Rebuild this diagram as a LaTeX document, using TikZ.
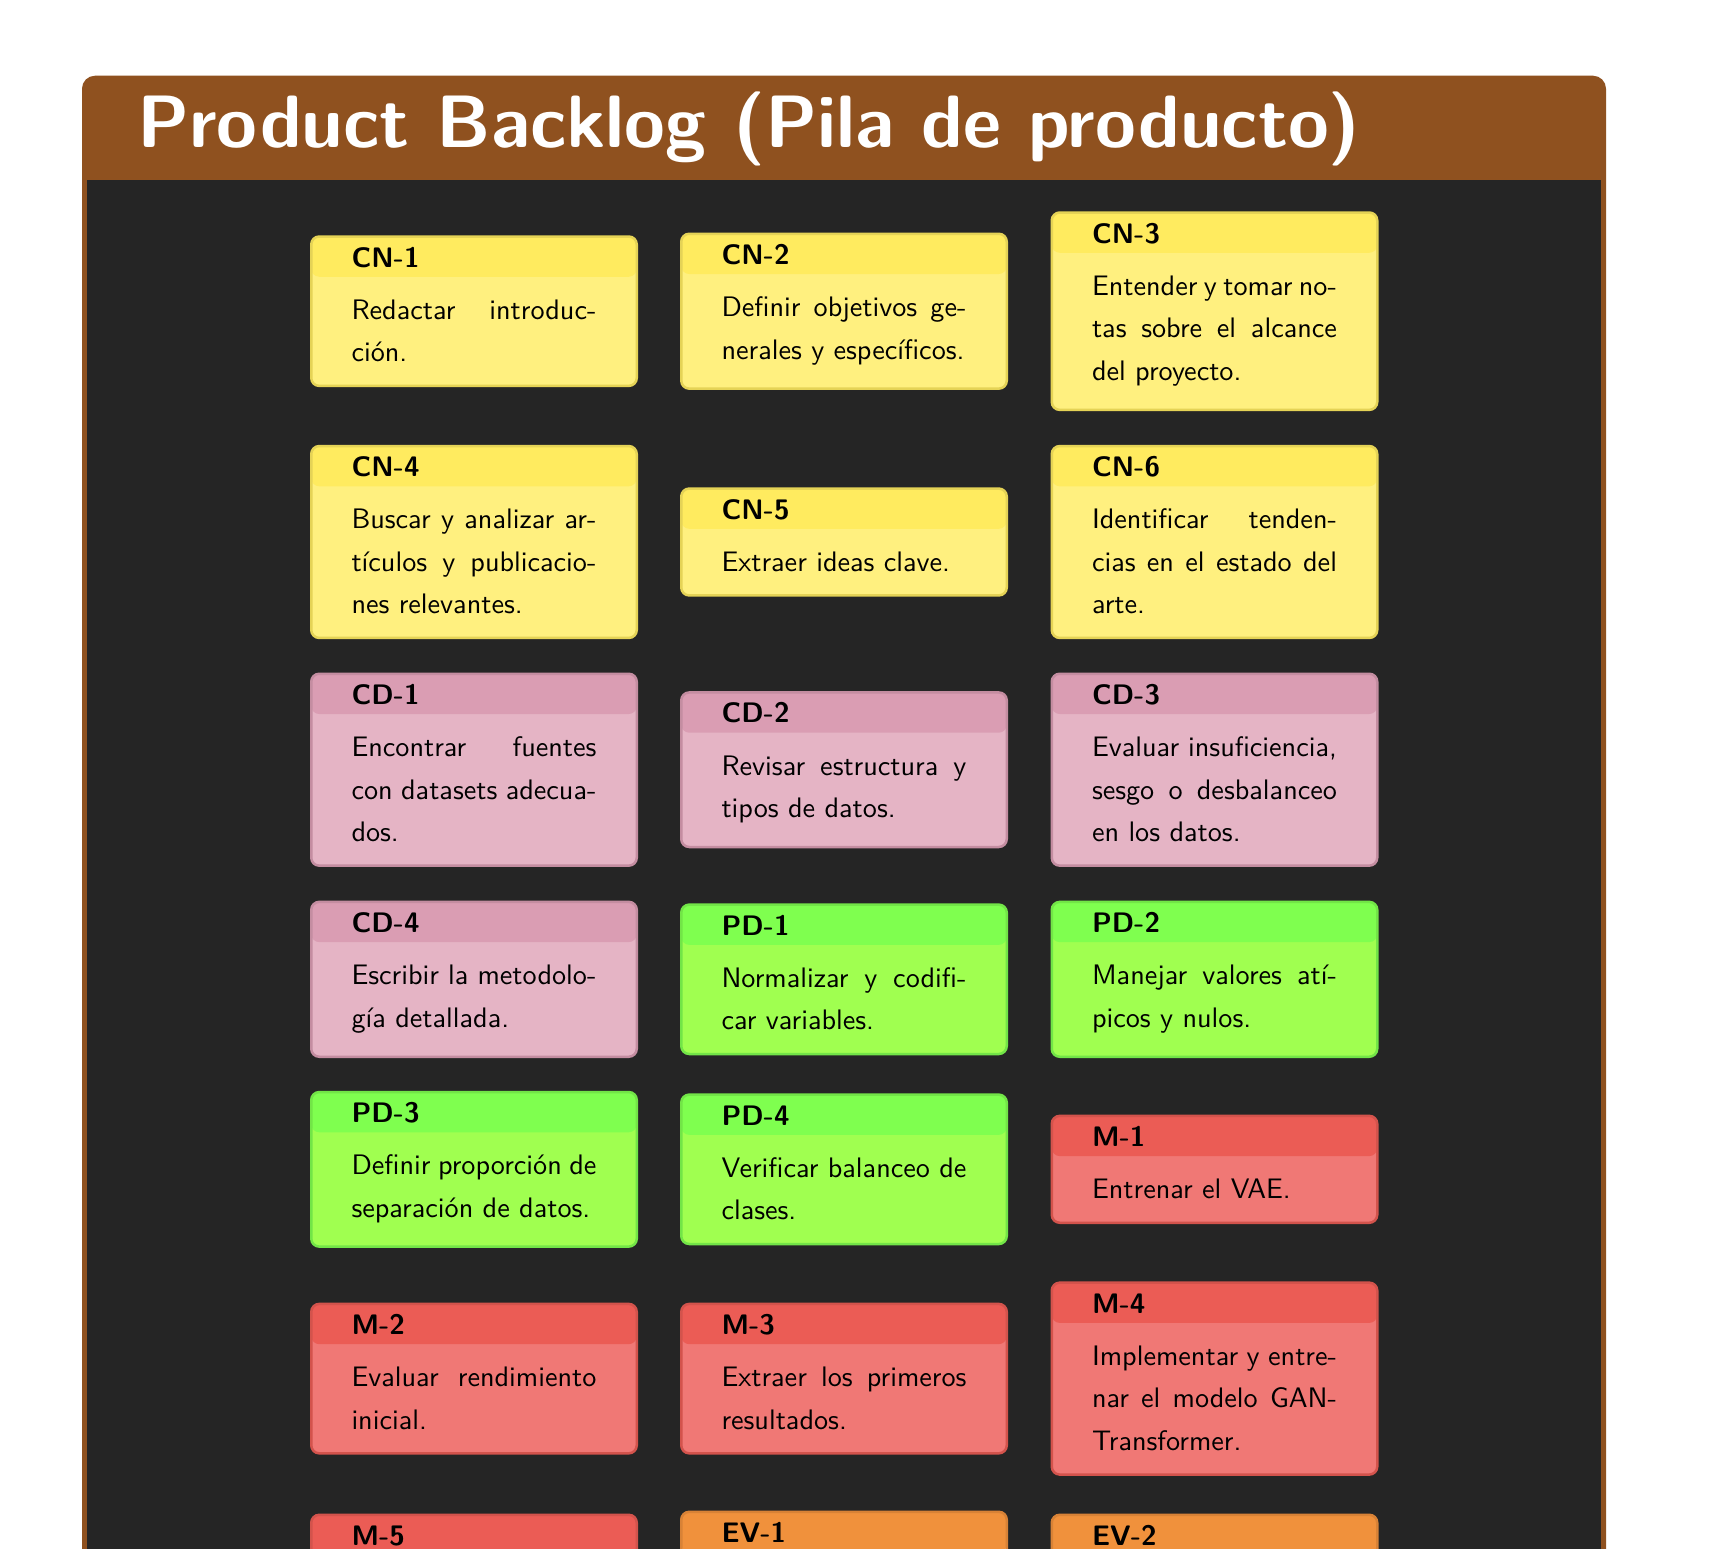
\documentclass[tikz,border=0pt]{standalone}
\usepackage{fontspec}
\setsansfont{lmsans10-regular.otf}[BoldFont=lmsans10-bold.otf]
\usetikzlibrary{calc}

% board colours
\definecolor{framebrown}{HTML}{8F511F}
\definecolor{boarddark}{HTML}{252525}
% card colours per category
\definecolor{cnhead}{HTML}{FFEB5F}
\definecolor{cnbody}{HTML}{FFF07F}
\definecolor{cdhead}{HTML}{DA9DB3}
\definecolor{cdbody}{HTML}{E5B4C5}
\definecolor{pdhead}{HTML}{7FFF4F}
\definecolor{pdbody}{HTML}{A0FF50}
\definecolor{mhead}{HTML}{EB5C55}
\definecolor{mbody}{HTML}{F07875}
\definecolor{evhead}{HTML}{F0913C}
\definecolor{evbody}{HTML}{F3A765}

% a justified line of card text
\newcommand\jline[1]{\makebox[245pt][s]{#1}}
% card contents: bold id, then the task text
\newcommand\cardtext[2]{%
  \fontsize{28.2}{42.5}\selectfont
  \spaceskip=0pt\xspaceskip=0pt\relax
  \rule{0pt}{30.5pt}\textbf{#1}\\[9.8pt]#2\par
  \kern23.8pt\nointerlineskip\hbox{}}

\tikzset{
  card/.style={rectangle, rounded corners=8pt, text width=245pt,
    inner xsep=40.25pt, inner ysep=0pt, align=left, text=black,
    font=\sffamily\fontsize{28.2}{42.5}\selectfont, line width=2.5pt},
  cardof/.style 2 args={card, fill=#2, draw=#1!90!black,
    path picture={\fill[#1] (path picture bounding box.north west)
      rectangle ([yshift=-40.25pt]path picture bounding box.north east);}},
  cncard/.style={cardof={cnhead}{cnbody}},
  cdcard/.style={cardof={cdhead}{cdbody}},
  pdcard/.style={cardof={pdhead}{pdbody}},
  mcard/.style={cardof={mhead}{mbody}},
  evcard/.style={cardof={evhead}{evbody}},
}

\begin{document}
\begin{tikzpicture}[x=1pt, y=-1pt]
  \clip (0,0) rectangle (1712,1548);
  \fill[white] (0,0) rectangle (1712,1548);

  % board: brown header and frame, dark working area
  \fill[framebrown, rounded corners=13pt] (82,75.7) rectangle (1606,1700);
  \fill[boarddark] (87,180) rectangle (1601,1700);
  \node[anchor=base west, inner sep=0pt, text=white,
        font=\sffamily\bfseries\fontsize{74.2}{80}\selectfont]
        (title) at (137,147.3) {Product Backlog (Pila de producto)};

  % columns at x = 474, 844, 1214.5
  % row 1
  \node[cncard] (cn1) at (474,311.2)
    {\cardtext{CN-1}{\jline{Redactar introduc-}\\ción.}};
  \node[cncard] (cn2) at (844,311.2)
    {\cardtext{CN-2}{\jline{Definir objetivos ge-}\\nerales y específicos.}};
  \node[cncard] (cn3) at (1214.5,311.2)
    {\cardtext{CN-3}{\jline{Entender y tomar no-}\\\jline{tas sobre el alcance}\\del proyecto.}};
  % row 2
  \node[cncard] (cn4) at (474,542)
    {\cardtext{CN-4}{\jline{Buscar y analizar ar-}\\\jline{tículos y publicacio-}\\nes relevantes.}};
  \node[cncard] (cn5) at (844,542)
    {\cardtext{CN-5}{Extraer ideas clave.}};
  \node[cncard] (cn6) at (1214.5,542)
    {\cardtext{CN-6}{\jline{Identificar tenden-}\\\jline{cias en el estado del}\\arte.}};
  % row 3
  \node[cdcard] (cd1) at (474,769.7)
    {\cardtext{CD-1}{\jline{Encontrar fuentes}\\\jline{con datasets adecua-}\\dos.}};
  \node[cdcard] (cd2) at (844,769.7)
    {\cardtext{CD-2}{\jline{Revisar estructura y}\\tipos de datos.}};
  \node[cdcard] (cd3) at (1214.5,769.7)
    {\cardtext{CD-3}{\jline{Evaluar insuficiencia,}\\\jline{sesgo o desbalanceo}\\en los datos.}};
  % row 4
  \node[cdcard] (cd4) at (474,979.3)
    {\cardtext{CD-4}{\jline{Escribir la metodolo-}\\gía detallada.}};
  \node[pdcard] (pd1) at (844,979.3)
    {\cardtext{PD-1}{\jline{Normalizar y codifi-}\\car variables.}};
  \node[pdcard] (pd2) at (1214.5,979.3)
    {\cardtext{PD-2}{\jline{Manejar valores atí-}\\picos y nulos.}};
  % row 5
  \node[pdcard] (pd3) at (474,1169.3)
    {\cardtext{PD-3}{\jline{Definir proporción de}\\separación de datos.}};
  \node[pdcard] (pd4) at (844,1169.3)
    {\cardtext{PD-4}{\jline{Verificar balanceo de}\\clases.}};
  \node[mcard] (m1) at (1214.5,1169.3)
    {\cardtext{M-1}{Entrenar el VAE.}};
  % row 6
  \node[mcard] (m2) at (474,1378.6)
    {\cardtext{M-2}{\jline{Evaluar rendimiento}\\inicial.}};
  \node[mcard] (m3) at (844,1378.6)
    {\cardtext{M-3}{\jline{Extraer los primeros}\\resultados.}};
  \node[mcard] (m4) at (1214.5,1378.6)
    {\cardtext{M-4}{\jline{Implementar y entre-}\\\jline{nar el modelo GAN-}\\Transformer.}};
  % row 7, running past the lower edge
  \node[mcard, anchor=north] (m5) at (474,1513.5)
    {\cardtext{M-5}{\mbox{}\\\mbox{}}};
  \node[evcard, anchor=north] (ev1) at (844,1510.5)
    {\cardtext{EV-1}{\mbox{}\\\mbox{}}};
  \node[evcard, anchor=north] (ev2) at (1214.5,1513.5)
    {\cardtext{EV-2}{\mbox{}\\\mbox{}}};
\end{tikzpicture}
\end{document}
